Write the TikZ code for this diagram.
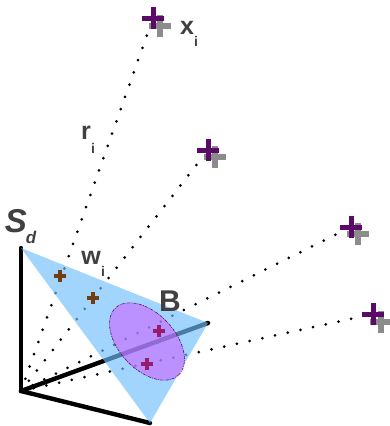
\documentclass[tikz,border=0pt]{standalone}
\usepackage{fontspec}
\setmainfont{Liberation Sans}
\usetikzlibrary{shapes.misc,shapes.geometric}
\definecolor{planeblue}{RGB}{112,192,252}
\definecolor{blobpurple}{RGB}{208,90,255}
\definecolor{markpurple}{RGB}{92,10,104}
\definecolor{shadowgray}{RGB}{140,140,140}
\definecolor{wordgray}{RGB}{64,64,64}
\definecolor{markbrown}{RGB}{112,62,16}
\definecolor{markwine}{RGB}{150,28,110}
\begin{document}
\begin{tikzpicture}[x=1pt,y=-1pt,
  plus/.style={cross out, rotate=45, draw=#1, inner sep=0pt, outer sep=0pt, minimum size=16pt, line width=5pt},
  shadow/.style={plus=shadowgray, line width=6pt},
  small/.style={cross out, rotate=45, draw=#1, inner sep=0pt, outer sep=0pt, minimum size=9pt, line width=3.4pt},
  ray/.style={line width=3pt, line cap=round, dash pattern=on 0pt off 13pt},
  axis/.style={line width=4.4pt, line cap=round},
  word/.style={text=wordgray, font=\fontsize{25}{25}\selectfont\bfseries, inner sep=0pt},
  sub/.style={text=wordgray, font=\fontsize{14}{14}\selectfont\bfseries, inner sep=0pt}
]
  \useasboundingbox (0,0) rectangle (389,426);
  \fill[white] (0,0) rectangle (389,426);
  \coordinate (orig) at (21,391);
  \coordinate (top)  at (21,248);
  \coordinate (far)  at (208,323);
  \coordinate (low)  at (150,423);
  \node[shadow] (s1) at (160,26)  {};
  \node[shadow] (s2) at (215,157) {};
  \node[shadow] (s3) at (358,234) {};
  \node[shadow] (s4) at (381,322) {};
  \node[plus=markpurple] (x1) at (153,18)  {};
  \node[plus=markpurple] (x2) at (208,150) {};
  \node[plus=markpurple] (x3) at (351,227) {};
  \node[plus=markpurple] (x4) at (373,314) {};
  \draw[ray] (orig)--(x1);
  \draw[ray] (orig)--(x2);
  \draw[ray] (orig)--(x3);
  \draw[ray] (orig)--(x4);
  \draw[axis] (orig)--(top);
  \draw[axis] (orig)--(far);
  \draw[axis] (orig)--(low);
  \fill[planeblue, fill opacity=.65] (top)--(far)--(low)--cycle;
  \node[ellipse, rotate=-47, minimum width=92pt, minimum height=56pt, inner sep=0pt,
        fill=blobpurple, fill opacity=.55, draw=markpurple, dash pattern=on 3pt off 1pt on 1pt off 1pt,
        line width=.6pt] (blob) at (147,341.5) {};
  \node[small=markbrown] (w1) at (60,276)  {};
  \node[small=markbrown] (w2) at (93,298)  {};
  \node[small=markwine] (w3) at (159,331) {};
  \node[small=markwine] (w4) at (147,364) {};
  \node[word, font=\fontsize{33}{33}\selectfont\bfseries\itshape] (sname) at (16,221) {S};
  \node[word, font=\fontsize{17}{17}\selectfont\bfseries\itshape] (dname) at (31,237) {d};
  \node[word] (xname) at (187,28) {x};
  \node[sub]  (xsub)  at (196,41) {i};
  \node[word] (rname) at (86,133) {r};
  \node[sub]  (rsub)  at (93,148) {i};
  \node[word] (wname) at (91,258) {w};
  \node[sub]  (wsub)  at (103,271) {i};
  \node[word, font=\fontsize{30}{30}\selectfont\bfseries] (bname) at (170,301) {B};
\end{tikzpicture}
\end{document}
